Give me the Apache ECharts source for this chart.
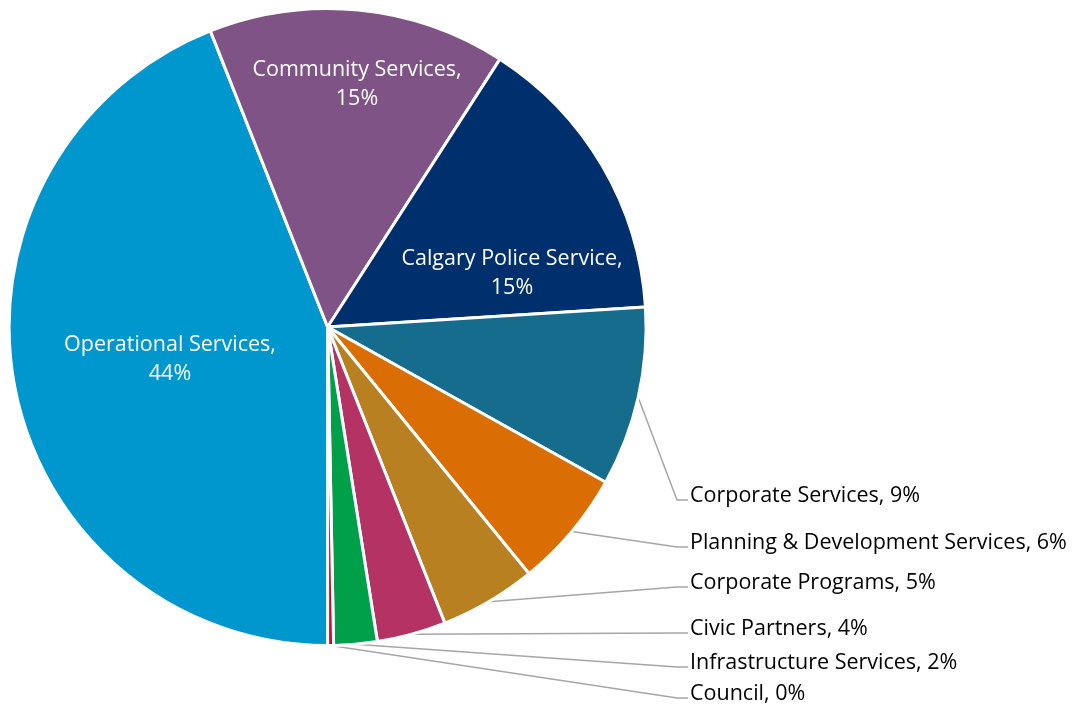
<!DOCTYPE html>
<html>
<head>
<meta charset="utf-8">
<title>Operating budget by department</title>
<script src="https://cdn.jsdelivr.net/npm/echarts@6/dist/echarts.min.js"></script>
<style>
  html, body { margin: 0; padding: 0; background: #ffffff; }
  #chart { width: 1073px; height: 704px; }
</style>
</head>
<body>
<div id="chart"></div>
<script>
// Departments, in drawing order (clockwise from six o'clock)
const categories = [
  'Operational Services',
  'Community Services',
  'Calgary Police Service',
  'Corporate Services',
  'Planning & Development Services',
  'Corporate Programs',
  'Civic Partners',
  'Infrastructure Services',
  'Council'
];

// Share of the budget, in percent
const shares = [44.0, 15.1, 14.9, 9.1, 6.0, 4.9, 3.5, 2.2, 0.3];

// Slice colours, same order as the departments
const colors = [
  '#0096CE', '#7F5385', '#002F6E', '#156C8C', '#DA6E04',
  '#B88020', '#B43264', '#00A04B', '#C8102E'
];

// Label placement: the three big slices carry their labels inside,
// the rest are stacked in a column to the right of the pie.
const insideSpots = {
  'Operational Services': [170, 359],
  'Community Services': [357, 84],
  'Calgary Police Service': [512, 273]
};
const outsideRows = {
  'Corporate Services': 496,
  'Planning & Development Services': 543,
  'Corporate Programs': 583,
  'Civic Partners': 629,
  'Infrastructure Services': 663,
  'Council': 694
};
const LABEL_X = 690;
const FONT = '"Open Sans", "Noto Sans", sans-serif';

const pct = v => Math.round(v) + '%';

const data = categories.map((name, i) => {
  const inside = !!insideSpots[name];
  return {
    name: name,
    value: shares[i],
    itemStyle: { color: colors[i] },
    label: inside
      ? { position: 'inside', color: '#ffffff', lineHeight: 29,
          formatter: p => p.name + ',\n' + pct(p.value) }
      : { position: 'outside', color: '#000000',
          formatter: p => p.name + ', ' + pct(p.value) },
    labelLine: { show: !inside }
  };
});

const chart = echarts.init(document.getElementById('chart'), null, { renderer: 'canvas' });

chart.setOption({
  animation: false,
  backgroundColor: '#ffffff',
  series: [{
    type: 'pie',
    center: [327.6, 327],
    radius: 318.5,
    startAngle: -90,
    clockwise: true,
    avoidLabelOverlap: false,
    itemStyle: { borderColor: '#ffffff', borderWidth: 3 },
    label: {
      fontFamily: FONT,
      fontSize: 21.5
    },
    labelLine: {
      lineStyle: { color: '#A6A6A6', width: 1.5 }
    },
    emphasis: { disabled: true },
    labelLayout: function (params) {
      const name = categories[params.dataIndex];
      if (insideSpots[name]) {
        const spot = insideSpots[name];
        return { x: spot[0], y: spot[1], align: 'center', verticalAlign: 'middle' };
      }
      const y = outsideRows[name];
      const start = params.labelLinePoints[0];
      return {
        x: LABEL_X,
        y: y,
        align: 'left',
        verticalAlign: 'middle',
        labelLinePoints: [
          [start[0], start[1]],
          [LABEL_X - 13, y + 4],
          [LABEL_X - 2, y + 4]
        ]
      };
    },
    data: data
  }]
});
</script>
</body>
</html>
